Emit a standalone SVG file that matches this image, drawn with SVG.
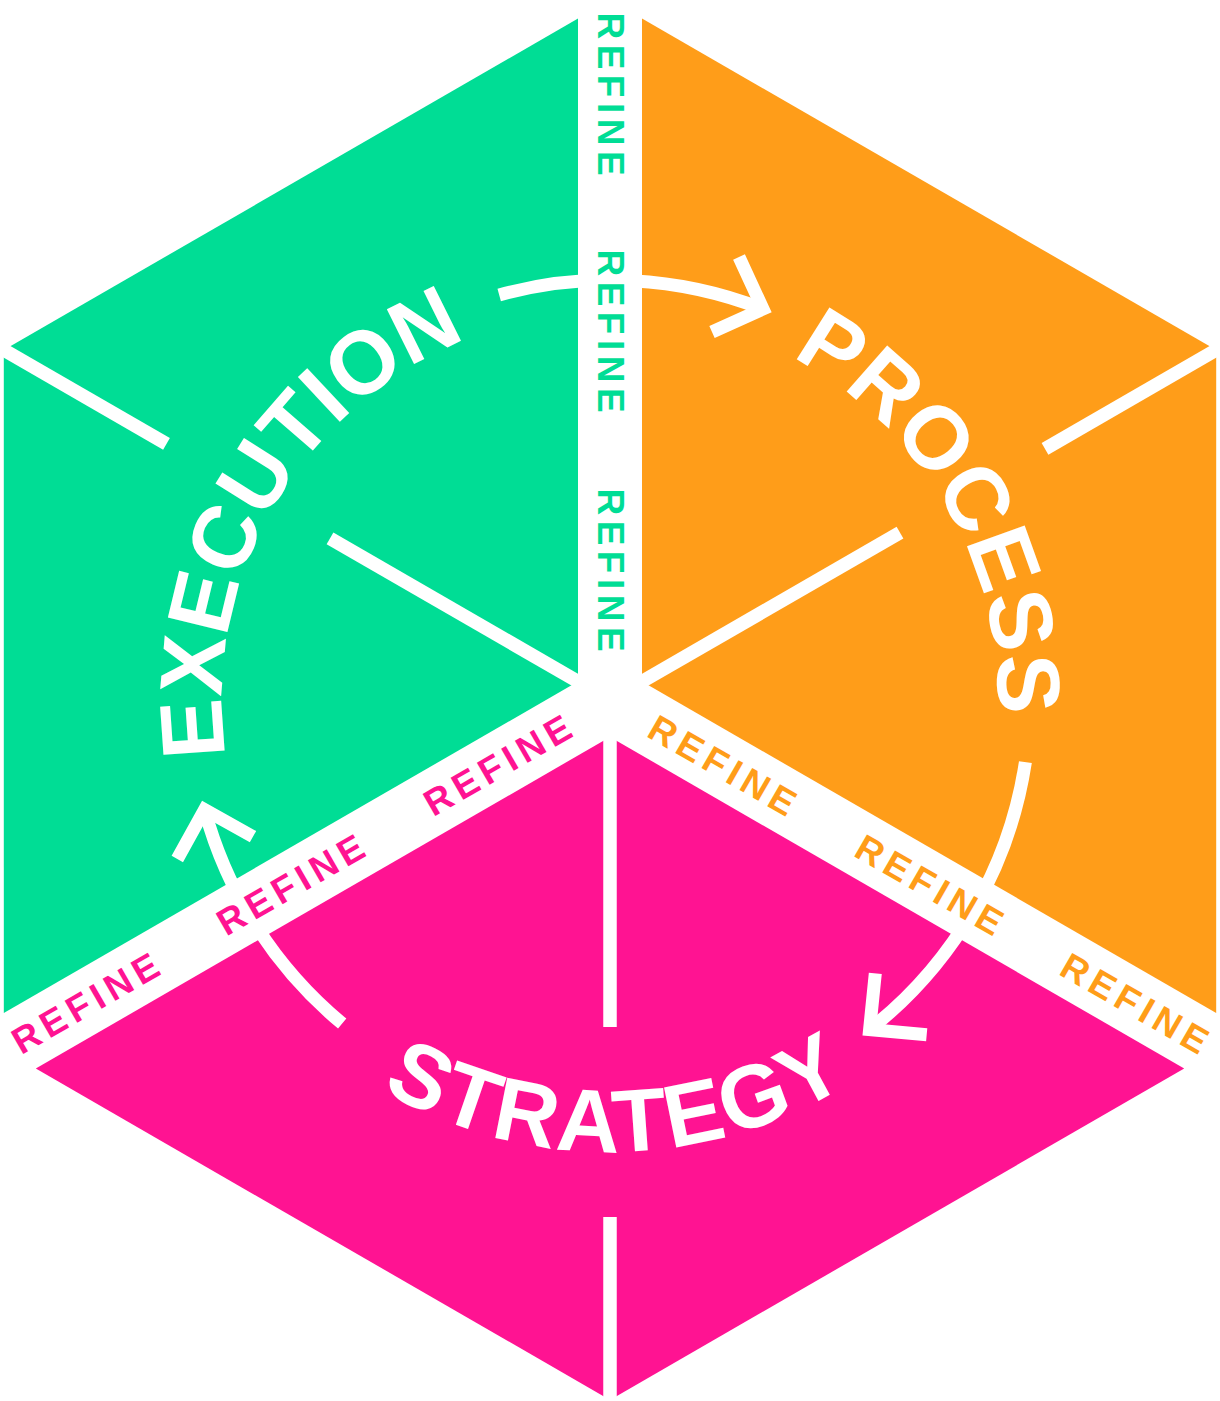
<svg xmlns="http://www.w3.org/2000/svg" width="1220" height="1401" viewBox="0 0 1220 1401">
<style>
.cut{stroke:#fff;stroke-width:13.5;fill:none;stroke-linecap:butt}
.arw{stroke:#fff;stroke-width:13;fill:none;stroke-linecap:butt;stroke-linejoin:miter}
.big{font-family:"Liberation Sans",Arial,sans-serif;font-weight:700;font-size:89px;fill:#fff}
.rf{font-family:"Liberation Sans",Arial,sans-serif;font-weight:700;font-size:37px;letter-spacing:5.5px;text-anchor:middle}
.g{fill:#00DD95}.o{fill:#FF9D19}.m{fill:#FF1392}
</style>
<defs>
<path id="pExe" d="M 360.6 997.2 A 388 388 0 0 1 742.7 335.4"/>
<path id="pPro" d="M 477.3 335.4 A 388 388 0 0 1 859.4 997.2"/>
<path id="pStr" d="M 164.9 778.5 A 452 452 0 0 0 1055.1 778.5"/>
</defs>
<rect width="1220" height="1401" fill="#fff"/>
<g id="execution">
<polygon class="g" points="578,18.5 3.8,350 3.8,1013 578,681.5"/>
<line class="cut" x1="-5" y1="344.9" x2="166.5" y2="443.9"/>
<line class="cut" x1="330" y1="538.3" x2="610" y2="700"/>
<text class="big"><textPath href="#pExe" startOffset="50%" text-anchor="middle">EXECUTION</textPath></text>
</g>
<g id="process">
<polygon class="o" points="642,18.5 1216.2,350 1216.2,1013 642,681.5"/>
<line class="cut" x1="1225" y1="344.9" x2="1045" y2="448.8"/>
<line class="cut" x1="900" y1="532.6" x2="610" y2="700"/>
<text class="big"><textPath href="#pPro" startOffset="50%" text-anchor="middle">PROCESS</textPath></text>
</g>
<g id="strategy">
<polygon class="m" points="610,737 35.8,1068.5 610,1400 1184.2,1068.5"/>
<line class="cut" x1="610" y1="700" x2="610" y2="1027"/>
<line class="cut" x1="610" y1="1217" x2="610" y2="1410"/>
<text class="big" letter-spacing="2"><textPath href="#pStr" startOffset="50.6%" text-anchor="middle">STRATEGY</textPath></text>
</g>
<g id="connectors">
<path class="arw" d="M 499.2 294.9 A 420 420 0 0 1 763 309"/>
<path class="arw" d="M 739 257 L 763 309 L 712 332"/>
<path class="arw" d="M 1025.4 762.1 A 420 420 0 0 1 869.6 1029.5"/>
<path class="arw" d="M 875.3 973.3 L 869.6 1029.5 L 926.7 1034.7"/>
<path class="arw" d="M 342.2 1023.6 A 420 420 0 0 1 204.6 809.6"/>
<path class="arw" d="M 177.3 859 L 204.6 809.6 L 253 836.7"/>
</g>
<g id="refine-labels">
<g class="g">
<text class="rf" transform="translate(610.8,94) rotate(90)" x="2.75" y="13.2">REFINE</text>
<text class="rf" transform="translate(610.8,331) rotate(90)" x="2.75" y="13.2">REFINE</text>
<text class="rf" transform="translate(610.8,570) rotate(90)" x="2.75" y="13.2">REFINE</text>
</g>
<g class="o">
<text class="rf" transform="translate(722.6,765) rotate(30)" x="2.75" y="13.2">REFINE</text>
<text class="rf" transform="translate(929.6,884.5) rotate(30)" x="2.75" y="13.2">REFINE</text>
<text class="rf" transform="translate(1134.8,1003) rotate(30)" x="2.75" y="13.2">REFINE</text>
</g>
<g class="m">
<text class="rf" transform="translate(497.4,765) rotate(-30)" x="2.75" y="13.2">REFINE</text>
<text class="rf" transform="translate(290.4,884.5) rotate(-30)" x="2.75" y="13.2">REFINE</text>
<text class="rf" transform="translate(85.2,1003) rotate(-30)" x="2.75" y="13.2">REFINE</text>
</g>
</g>
</svg>
